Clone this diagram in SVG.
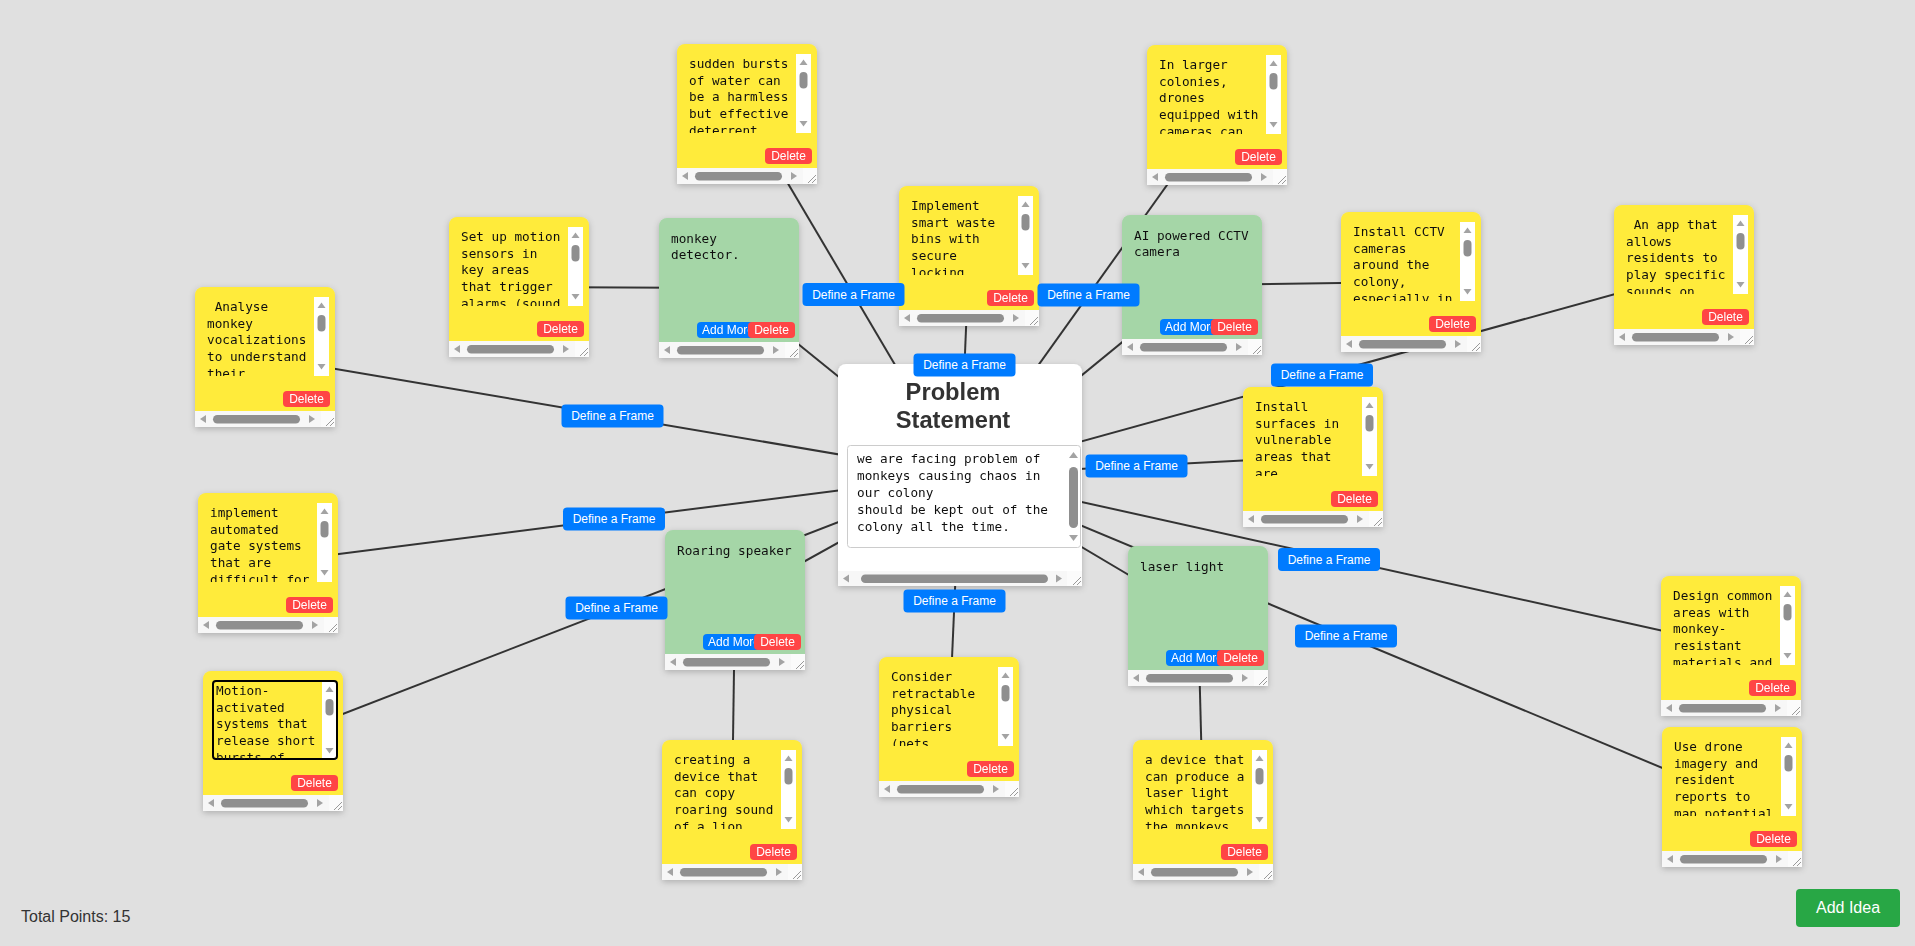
<svg xmlns="http://www.w3.org/2000/svg" xmlns:xlink="http://www.w3.org/1999/xlink" width="1915" height="946" viewBox="0 0 1915 946">
<style>
.bg{fill:#e0e0e0}
.line{stroke:#333;stroke-width:2;fill:none}
.yel{fill:#ffeb3b}
.grn{fill:#a5d6a7}
.mono{font-family:"DejaVu Sans Mono","Liberation Mono",monospace;font-size:12.7px;fill:#111;white-space:pre}
.btxt{font-family:"Liberation Sans",Arial,sans-serif;font-size:12px;fill:#fff}
.del{fill:#ff4545}
.blue{fill:#007bff}
.strip{fill:#f7f7f7}
.arrow{fill:#a3a3a3}
.thumb{fill:#8f8f8f}
.title{font-family:"Liberation Sans",Arial,sans-serif;font-weight:bold;font-size:23.7px;fill:#333;text-anchor:middle}
</style>
<defs>
<filter id="sh" x="-10%" y="-10%" width="120%" height="125%">
<feDropShadow dx="0" dy="2" stdDeviation="3" flood-color="#000" flood-opacity="0.22"/>
</filter>
<path id="shape" d="M0 140V8a8 8 0 0 1 8-8h124a8 8 0 0 1 8 8v132z"/>
<clipPath id="taclip"><rect x="0" y="10" width="119" height="79"/></clipPath>
<clipPath id="amclip"><rect x="38" y="100" width="51" height="25"/></clipPath>
<g id="hscroll">
<rect class="strip" x="0" y="124" width="140" height="16"/>
<polygon class="arrow" points="5,132 11,128 11,136"/>
<rect class="thumb" x="18" y="128" width="87" height="8.5" rx="4.25"/>
<polygon class="arrow" points="120,132 114,128 114,136"/>
<rect x="126" y="124" width="14" height="16" fill="#fbfbfb"/>
<path d="M131 139l8-8M135 139l4-4" stroke="#999" stroke-width="1"/>
</g>
<g id="vscroll">
<rect x="119" y="10" width="15" height="79" fill="#fff"/>
<polygon class="arrow" points="122.5,21 126.5,15.5 130.5,21"/>
<rect class="thumb" x="122.5" y="28" width="8" height="16.5" rx="4"/>
<polygon class="arrow" points="122.5,77 126.5,82.5 130.5,77"/>
</g>
<g id="delbtn">
<rect class="del" x="88" y="104" width="47" height="16" rx="4"/>
<text class="btxt" x="111.5" y="116.3" text-anchor="middle">Delete</text>
</g>
<g id="ybase">
<use href="#shape" class="yel"/>
<use href="#vscroll"/>
<use href="#hscroll"/>
<use href="#delbtn"/>
</g>
<g id="gbase">
<use href="#shape" class="grn"/>
<use href="#hscroll"/>
<rect class="blue" x="38" y="104" width="60" height="16" rx="4"/>
<text class="btxt" x="43" y="116.3" clip-path="url(#amclip)">Add More</text>
<use href="#delbtn" transform="translate(1,0)"/>
</g>
<g id="frame">
<rect class="blue" x="-51" y="-11.5" width="102" height="23" rx="4"/>
<text class="btxt" x="0" y="4.2" text-anchor="middle">Define a Frame</text>
</g>
</defs>

<rect class="bg" x="0" y="0" width="1915" height="946"/>

<g id="connectors">
<line class="line" x1="960" y1="475" x2="747" y2="114"/>
<line class="line" x1="960" y1="475" x2="1217" y2="115"/>
<line class="line" x1="960" y1="475" x2="969" y2="256"/>
<line class="line" x1="960" y1="475" x2="1684" y2="275"/>
<line class="line" x1="960" y1="475" x2="265" y2="357"/>
<line class="line" x1="960" y1="475" x2="1313" y2="457"/>
<line class="line" x1="960" y1="475" x2="268" y2="563"/>
<line class="line" x1="960" y1="475" x2="273" y2="741"/>
<line class="line" x1="960" y1="475" x2="1731" y2="646"/>
<line class="line" x1="960" y1="475" x2="1732" y2="797"/>
<line class="line" x1="960" y1="475" x2="949" y2="727"/>
<line class="line" x1="960" y1="475" x2="729" y2="288"/>
<line class="line" x1="960" y1="475" x2="1192" y2="285"/>
<line class="line" x1="960" y1="475" x2="735" y2="600"/>
<line class="line" x1="960" y1="475" x2="1198" y2="616"/>
<line class="line" x1="729" y1="288" x2="519" y2="287"/>
<line class="line" x1="1192" y1="285" x2="1411" y2="282"/>
<line class="line" x1="735" y1="600" x2="732" y2="810"/>
<line class="line" x1="1198" y1="616" x2="1203" y2="810"/>
</g>

<g id="problem-statement" filter="url(#sh)">
<path d="M838 586V372a8 8 0 0 1 8-8h228a8 8 0 0 1 8 8v214z" fill="#fff"/>
<text class="title" x="953" y="400">Problem</text>
<text class="title" x="953" y="428">Statement</text>
<rect x="847.5" y="445.5" width="233" height="102" rx="3" fill="#fff" stroke="#ccc" stroke-width="1"/>
<text class="mono" x="857" y="463"><tspan x="857" y="463">we are facing problem of</tspan><tspan x="857" y="480">monkeys causing chaos in</tspan><tspan x="857" y="497">our colony</tspan><tspan x="857" y="514">should be kept out of the</tspan><tspan x="857" y="531">colony all the time.</tspan></text>
<polygon class="arrow" points="1069,458 1073.5,452 1078,458"/>
<rect class="thumb" x="1069" y="467" width="9" height="61" rx="4.5"/>
<polygon class="arrow" points="1069,535 1073.5,541 1078,535"/>
<rect class="strip" x="838" y="571" width="244" height="15"/>
<polygon class="arrow" points="843,578.5 849,574.5 849,582.5"/>
<rect class="thumb" x="861" y="574.5" width="187" height="8.5" rx="4.25"/>
<polygon class="arrow" points="1062,578.5 1056,574.5 1056,582.5"/>
<rect x="1067" y="571" width="15" height="15" fill="#fbfbfb"/>
<path d="M1073 585l8-8M1077 585l4-4" stroke="#999" stroke-width="1"/>
</g>

<g id="node-a" transform="translate(677,44)" filter="url(#sh)"><use href="#ybase"/>
<text class="mono" clip-path="url(#taclip)"><tspan x="12" y="24">sudden bursts</tspan><tspan x="12" y="40.7">of water can</tspan><tspan x="12" y="57.4">be a harmless</tspan><tspan x="12" y="74.1">but effective</tspan><tspan x="12" y="90.8">deterrent</tspan></text></g>

<g id="node-b" transform="translate(1147,45)" filter="url(#sh)"><use href="#ybase"/>
<text class="mono" clip-path="url(#taclip)"><tspan x="12" y="24">In larger</tspan><tspan x="12" y="40.7">colonies,</tspan><tspan x="12" y="57.4">drones</tspan><tspan x="12" y="74.1">equipped with</tspan><tspan x="12" y="90.8">cameras can</tspan></text></g>

<g id="node-c" transform="translate(449,217)" filter="url(#sh)"><use href="#ybase"/>
<text class="mono" clip-path="url(#taclip)"><tspan x="12" y="24">Set up motion</tspan><tspan x="12" y="40.7">sensors in</tspan><tspan x="12" y="57.4">key areas</tspan><tspan x="12" y="74.1">that trigger</tspan><tspan x="12" y="90.8">alarms (sound</tspan></text></g>

<g id="node-d" transform="translate(899,186)" filter="url(#sh)"><use href="#ybase"/>
<text class="mono" clip-path="url(#taclip)"><tspan x="12" y="24">Implement</tspan><tspan x="12" y="40.7">smart waste</tspan><tspan x="12" y="57.4">bins with</tspan><tspan x="12" y="74.1">secure</tspan><tspan x="12" y="90.8">locking</tspan></text></g>

<g id="node-e" transform="translate(1341,212)" filter="url(#sh)"><use href="#ybase"/>
<text class="mono" clip-path="url(#taclip)"><tspan x="12" y="24">Install CCTV</tspan><tspan x="12" y="40.7">cameras</tspan><tspan x="12" y="57.4">around the</tspan><tspan x="12" y="74.1">colony,</tspan><tspan x="12" y="90.8">especially in</tspan></text></g>

<g id="node-f" transform="translate(1614,205)" filter="url(#sh)"><use href="#ybase"/>
<text class="mono" clip-path="url(#taclip)"><tspan x="12" y="24"> An app that</tspan><tspan x="12" y="40.7">allows</tspan><tspan x="12" y="57.4">residents to</tspan><tspan x="12" y="74.1">play specific</tspan><tspan x="12" y="90.8">sounds on</tspan></text></g>

<g id="node-g" transform="translate(195,287)" filter="url(#sh)"><use href="#ybase"/>
<text class="mono" clip-path="url(#taclip)"><tspan x="12" y="24"> Analyse</tspan><tspan x="12" y="40.7">monkey</tspan><tspan x="12" y="57.4">vocalizations</tspan><tspan x="12" y="74.1">to understand</tspan><tspan x="12" y="90.8">their</tspan></text></g>

<g id="node-h" transform="translate(1243,387)" filter="url(#sh)"><use href="#ybase"/>
<text class="mono" clip-path="url(#taclip)"><tspan x="12" y="24">Install</tspan><tspan x="12" y="40.7">surfaces in</tspan><tspan x="12" y="57.4">vulnerable</tspan><tspan x="12" y="74.1">areas that</tspan><tspan x="12" y="90.8">are</tspan></text></g>

<g id="node-i" transform="translate(198,493)" filter="url(#sh)"><use href="#ybase"/>
<text class="mono" clip-path="url(#taclip)"><tspan x="12" y="24">implement</tspan><tspan x="12" y="40.7">automated</tspan><tspan x="12" y="57.4">gate systems</tspan><tspan x="12" y="74.1">that are</tspan><tspan x="12" y="90.8">difficult for</tspan></text></g>

<g id="node-j" transform="translate(203,671)" filter="url(#sh)"><use href="#ybase"/>
<rect x="10" y="10" width="124" height="78" rx="3" fill="none" stroke="#000" stroke-width="2"/>
<text class="mono" clip-path="url(#taclip)"><tspan x="13" y="24">Motion-</tspan><tspan x="13" y="40.7">activated</tspan><tspan x="13" y="57.4">systems that</tspan><tspan x="13" y="74.1">release short</tspan><tspan x="13" y="90.8">bursts of</tspan></text></g>

<g id="node-k" transform="translate(1661,576)" filter="url(#sh)"><use href="#ybase"/>
<text class="mono" clip-path="url(#taclip)"><tspan x="12" y="24">Design common</tspan><tspan x="12" y="40.7">areas with</tspan><tspan x="12" y="57.4">monkey-</tspan><tspan x="12" y="74.1">resistant</tspan><tspan x="12" y="90.8">materials and</tspan></text></g>

<g id="node-l" transform="translate(1662,727)" filter="url(#sh)"><use href="#ybase"/>
<text class="mono" clip-path="url(#taclip)"><tspan x="12" y="24">Use drone</tspan><tspan x="12" y="40.7">imagery and</tspan><tspan x="12" y="57.4">resident</tspan><tspan x="12" y="74.1">reports to</tspan><tspan x="12" y="90.8">map potential</tspan></text></g>

<g id="node-m" transform="translate(879,657)" filter="url(#sh)"><use href="#ybase"/>
<text class="mono" clip-path="url(#taclip)"><tspan x="12" y="24">Consider</tspan><tspan x="12" y="40.7">retractable</tspan><tspan x="12" y="57.4">physical</tspan><tspan x="12" y="74.1">barriers</tspan><tspan x="12" y="90.8">(nets,</tspan></text></g>

<g id="node-n" transform="translate(662,740)" filter="url(#sh)"><use href="#ybase"/>
<text class="mono" clip-path="url(#taclip)"><tspan x="12" y="24">creating a</tspan><tspan x="12" y="40.7">device that</tspan><tspan x="12" y="57.4">can copy</tspan><tspan x="12" y="74.1">roaring sound</tspan><tspan x="12" y="90.8">of a lion</tspan></text></g>

<g id="node-o" transform="translate(1133,740)" filter="url(#sh)"><use href="#ybase"/>
<text class="mono" clip-path="url(#taclip)"><tspan x="12" y="24">a device that</tspan><tspan x="12" y="40.7">can produce a</tspan><tspan x="12" y="57.4">laser light</tspan><tspan x="12" y="74.1">which targets</tspan><tspan x="12" y="90.8">the monkeys</tspan></text></g>

<g id="node-p" transform="translate(659,218)" filter="url(#sh)"><use href="#gbase"/>
<text class="mono"><tspan x="12" y="24.5">monkey</tspan><tspan x="12" y="41.2">detector.</tspan></text></g>

<g id="node-q" transform="translate(1122,215)" filter="url(#sh)"><use href="#gbase"/>
<text class="mono"><tspan x="12" y="24.5">AI powered CCTV</tspan><tspan x="12" y="41.2">camera</tspan></text></g>

<g id="node-r" transform="translate(665,530)" filter="url(#sh)"><use href="#gbase"/>
<text class="mono"><tspan x="12" y="24.5">Roaring speaker</tspan></text></g>

<g id="node-s" transform="translate(1128,546)" filter="url(#sh)"><use href="#gbase"/>
<text class="mono"><tspan x="12" y="24.5">laser light</tspan></text></g>

<g id="connector-labels">
<use href="#frame" transform="translate(853.5,294.5)"/>
<use href="#frame" transform="translate(1088.5,295)"/>
<use href="#frame" transform="translate(964.5,365)"/>
<use href="#frame" transform="translate(1322,375)"/>
<use href="#frame" transform="translate(612.5,416)"/>
<use href="#frame" transform="translate(1136.5,466)"/>
<use href="#frame" transform="translate(614,519)"/>
<use href="#frame" transform="translate(616.5,608)"/>
<use href="#frame" transform="translate(1329,559.5)"/>
<use href="#frame" transform="translate(1346,636)"/>
<use href="#frame" transform="translate(954.5,601)"/>
</g>

<g id="footer">
<text x="21" y="922" font-family="Liberation Sans, Arial, sans-serif" font-size="16" fill="#333">Total Points: 15</text>
<g id="add-idea">
<rect x="1796" y="889" width="104" height="38" rx="4" fill="#28a745"/>
<text x="1848" y="913" font-family="Liberation Sans, Arial, sans-serif" font-size="16" fill="#fff" text-anchor="middle">Add Idea</text>
</g>
</g>
</svg>
